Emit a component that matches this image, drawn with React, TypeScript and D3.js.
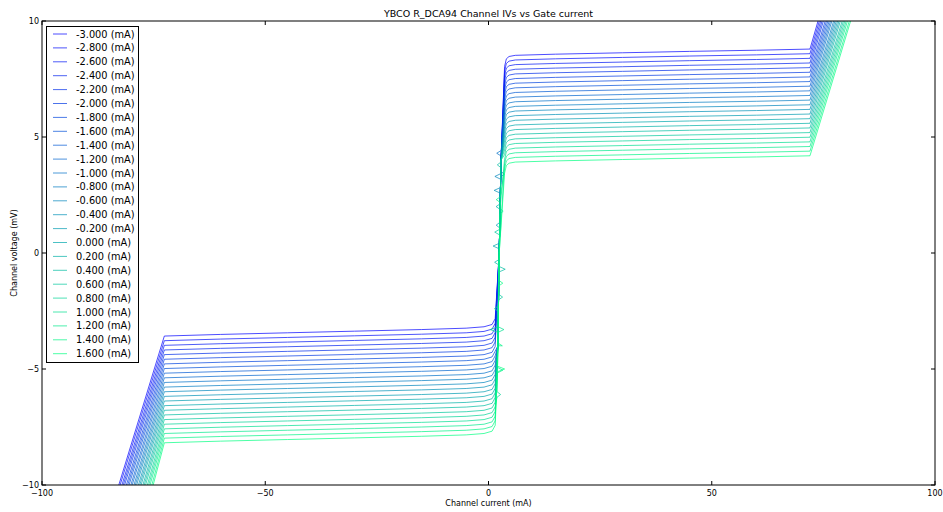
import React from "react";
import * as d3 from "d3";

const W = 943;
const H = 512;
const M = { left: 42, right: 935, top: 21, bottom: 485 };

const gateCurrents = [
  -3.0, -2.8, -2.6, -2.4, -2.2, -2.0, -1.8, -1.6, -1.4, -1.2, -1.0, -0.8,
  -0.6, -0.4, -0.2, 0.0, 0.2, 0.4, 0.6, 0.8, 1.0, 1.2, 1.4, 1.6,
];
// voltage at the lower-left corner (I = -72.6 mA)
const lowCornerV = [
  -3.58, -3.78, -3.98, -4.18, -4.38, -4.58, -4.78, -4.98, -5.18, -5.38, -5.58,
  -5.78, -5.98, -6.18, -6.38, -6.58, -6.78, -6.98, -7.18, -7.38, -7.58, -7.78,
  -7.98, -8.18,
];
// voltage at the upper-right corner (I = 72 mA)
const highCornerV = [
  8.79, 8.59, 8.39, 8.19, 7.99, 7.79, 7.59, 7.39, 7.19, 6.99, 6.79, 6.59, 6.39,
  6.19, 5.99, 5.79, 5.59, 5.39, 5.19, 4.99, 4.79, 4.59, 4.39, 4.19,
];
// current where each curve leaves the frame at -10 mV / +10 mV
const bottomExitI = [
  -82.8, -82.5, -82.1, -81.8, -81.5, -81.1, -80.8, -80.5, -80.1, -79.8, -79.4,
  -79.1, -78.8, -78.4, -78.1, -77.8, -77.4, -77.1, -76.8, -76.4, -76.1, -75.8,
  -75.4, -75.1,
];
const topExitI = [
  73.8, 74.1, 74.4, 74.7, 75.0, 75.4, 75.7, 76.0, 76.3, 76.6, 76.9, 77.3, 77.6,
  77.9, 78.2, 78.5, 78.8, 79.2, 79.5, 79.8, 80.1, 80.4, 80.8, 81.1,
];
// shared branch shape
const lowBranchI = [-72.6, -60, -45, -30, -15, -5, -1, 0.8, 1.5];
const lowBranchRise = [0, 0.07, 0.14, 0.21, 0.28, 0.34, 0.4, 0.5, 0.75];
const highBranchI = [3.6, 4.0, 4.6, 6, 15, 30, 45, 60, 72];
const highBranchDrop = [-0.75, -0.42, -0.32, -0.27, -0.22, -0.16, -0.1, -0.05, 0];
const rampV = [-8.5, -4, 0, 4, 9];
const rampI = [1.7, 2.1, 2.4, 2.8, 3.5];
// noise spikes in the transition: [series index, voltage, current offset]
const spikes: [number, number, number][] = [
  [23, -5.0, 1.6],
  [21, -5.05, 1.2],
  [22, -4.0, 1.0],
  [20, -3.3, 1.3],
  [19, -3.3, -1.8],
  [18, -1.9, 0.9],
  [17, -0.7, 1.4],
  [16, -0.4, -1.0],
  [15, 0.3, -1.4],
  [14, 1.2, -0.8],
  [13, 2.7, -1.4],
  [12, 3.3, -1.3],
  [11, 3.4, 0.8],
  [10, 4.3, -1.0],
  [14, 5.2, -0.8],
  [12, 6.0, 0.9],
  [20, 1.8, 0.7],
  [22, 2.3, -0.9],
  [19, -6.1, 0.8],
  [21, -2.4, -0.9],
  [23, -1.3, 0.9],
  [18, 0.9, -1.1],
  [16, 2.0, -0.9],
  [17, 3.8, -0.8],
  [15, -5.6, 0.8],
];

const yTicks = [-10, -5, 0, 5, 10];
const xTicks = [-100, -50, 0, 50, 100];

const x = d3.scaleLinear().domain([-100, 100]).range([M.left, M.right]);
const y = d3.scaleLinear().domain([-10, 10]).range([M.bottom, M.top]);
const ramp = d3.scaleLinear().domain(rampV).range(rampI);

function fmt(v: number) {
  return String(v).replace("-", "\u2212");
}

function buildSeries(s: number): [number, number][] {
  const pts: [number, number][] = [];
  pts.push([bottomExitI[s], -10]);
  lowBranchI.forEach((I, k) => pts.push([I, lowCornerV[s] + lowBranchRise[k]]));
  const lowEnd = lowCornerV[s] + lowBranchRise[lowBranchRise.length - 1];
  const highStart = highCornerV[s] + highBranchDrop[0];
  const trans: [number, number][] = [];
  rampV.forEach((v) => {
    if (v > lowEnd + 0.2 && v < highStart - 0.2) trans.push([ramp(v), v]);
  });
  spikes
    .filter((sp) => sp[0] === s && sp[1] > lowEnd + 0.3 && sp[1] < highStart - 0.3)
    .forEach(([, v, dI]) => {
      trans.push([ramp(v - 0.12), v - 0.12]);
      trans.push([ramp(v) + dI, v]);
      trans.push([ramp(v + 0.12), v + 0.12]);
    });
  trans.sort((a, b) => a[1] - b[1]);
  trans.forEach((p) => pts.push(p));
  highBranchI.forEach((I, k) => pts.push([I, highCornerV[s] + highBranchDrop[k]]));
  pts.push([topExitI[s], 10]);
  return pts;
}

function color(s: number) {
  const t = s / (gateCurrents.length - 1);
  return `rgb(0, ${Math.round(t * 255)}, ${Math.round((1 - 0.5 * t) * 255)})`;
}

const line = d3
  .line<[number, number]>()
  .x((d) => x(d[0]))
  .y((d) => y(d[1]));

export default function App() {
  const font = "'DejaVu Sans', sans-serif";
  const legX = 46;
  const legY = 26;
  const rowH = 13.9;
  return (
    <div style={{ position: "absolute", left: 0, top: 0 }}>
      <svg width={W} height={H} style={{ display: "block", background: "#fff" }}>
        <defs>
          <clipPath id="plotclip">
            <rect x={M.left} y={M.top} width={M.right - M.left} height={M.bottom - M.top} />
          </clipPath>
        </defs>
        <text x={(M.left + M.right) / 2} y={17} textAnchor="middle" fontFamily={font} fontSize={9.5}>
          YBCO R_DCA94 Channel IVs vs Gate current
        </text>
        <g clipPath="url(#plotclip)">
          {gateCurrents.map((g, s) => (
            <path
              key={g}
              d={line(buildSeries(s)) || ""}
              fill="none"
              stroke={color(s)}
              strokeOpacity={0.7}
              strokeWidth={1}
            />
          ))}
        </g>
        <rect
          x={M.left}
          y={M.top}
          width={M.right - M.left}
          height={M.bottom - M.top}
          fill="none"
          stroke="#000"
          strokeWidth={1}
        />
        {xTicks.map((t) => (
          <g key={"x" + t}>
            <line x1={x(t)} x2={x(t)} y1={M.bottom} y2={M.bottom - 4} stroke="#000" />
            <line x1={x(t)} x2={x(t)} y1={M.top} y2={M.top + 4} stroke="#000" />
            <text x={x(t)} y={M.bottom + 11} textAnchor="middle" fontFamily={font} fontSize={8}>
              {fmt(t)}
            </text>
          </g>
        ))}
        {yTicks.map((t) => (
          <g key={"y" + t}>
            <line x1={M.left} x2={M.left + 4} y1={y(t)} y2={y(t)} stroke="#000" />
            <line x1={M.right} x2={M.right - 4} y1={y(t)} y2={y(t)} stroke="#000" />
            <text x={M.left - 3} y={y(t) + 3} textAnchor="end" fontFamily={font} fontSize={8}>
              {fmt(t)}
            </text>
          </g>
        ))}
        <text x={(M.left + M.right) / 2} y={506} textAnchor="middle" fontFamily={font} fontSize={8}>
          Channel current (mA)
        </text>
        <text
          transform={`translate(17, ${(M.top + M.bottom) / 2}) rotate(-90)`}
          textAnchor="middle"
          fontFamily={font}
          fontSize={8}
        >
          Channel voltage (mV)
        </text>
        <rect x={legX + 0.5} y={legY + 0.5} width={92} height={336} fill="#fff" stroke="#000" strokeWidth={1} />
        {gateCurrents.map((g, s) => (
          <g key={"l" + g}>
            <line
              x1={legX + 7}
              x2={legX + 21}
              y1={legY + 8 + s * rowH}
              y2={legY + 8 + s * rowH}
              stroke={color(s)}
              strokeOpacity={0.7}
            />
            <text x={legX + 30} y={legY + 11.5 + s * rowH} fontFamily={font} fontSize={9.8}>
              {(g < 0 ? "-" : "") + Math.abs(g).toFixed(3) + " (mA)"}
            </text>
          </g>
        ))}
      </svg>
    </div>
  );
}
